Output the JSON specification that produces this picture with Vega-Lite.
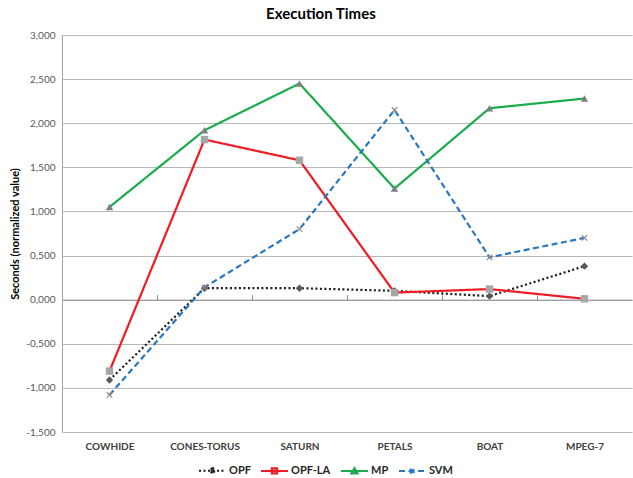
{
  "$schema": "https://vega.github.io/schema/vega-lite/v6.json",
  "width": 570,
  "height": 397,
  "autosize": {"type": "none"},
  "padding": {"left": 62, "top": 35, "right": 1, "bottom": 46},
  "background": "white",
  "config": {"font": "Lato", "view": {"stroke": null}},
  "title": {"text": "Execution Times", "font": "Lato", "fontSize": 15, "fontWeight": "bold", "color": "#000000", "anchor": "middle", "frame": "bounds", "offset": 8},
  "data": {"values": [
    {"cat": "COWHIDE", "series": "OPF", "v": -0.91},
    {"cat": "CONES-TORUS", "series": "OPF", "v": 0.13},
    {"cat": "SATURN", "series": "OPF", "v": 0.13},
    {"cat": "PETALS", "series": "OPF", "v": 0.10},
    {"cat": "BOAT", "series": "OPF", "v": 0.04},
    {"cat": "MPEG-7", "series": "OPF", "v": 0.38},
    {"cat": "COWHIDE", "series": "OPF-LA", "v": -0.81},
    {"cat": "CONES-TORUS", "series": "OPF-LA", "v": 1.815},
    {"cat": "SATURN", "series": "OPF-LA", "v": 1.58},
    {"cat": "PETALS", "series": "OPF-LA", "v": 0.08},
    {"cat": "BOAT", "series": "OPF-LA", "v": 0.12},
    {"cat": "MPEG-7", "series": "OPF-LA", "v": 0.01},
    {"cat": "COWHIDE", "series": "MP", "v": 1.05},
    {"cat": "CONES-TORUS", "series": "MP", "v": 1.92},
    {"cat": "SATURN", "series": "MP", "v": 2.45},
    {"cat": "PETALS", "series": "MP", "v": 1.26},
    {"cat": "BOAT", "series": "MP", "v": 2.17},
    {"cat": "MPEG-7", "series": "MP", "v": 2.28},
    {"cat": "COWHIDE", "series": "SVM", "v": -1.08},
    {"cat": "CONES-TORUS", "series": "SVM", "v": 0.14},
    {"cat": "SATURN", "series": "SVM", "v": 0.80},
    {"cat": "PETALS", "series": "SVM", "v": 2.15},
    {"cat": "BOAT", "series": "SVM", "v": 0.48},
    {"cat": "MPEG-7", "series": "SVM", "v": 0.70}
  ]},
  "encoding": {
    "y": {
      "field": "v", "type": "quantitative",
      "scale": {"domain": [-1.5, 3], "nice": false, "zero": false},
      "axis": {
        "title": "Seconds (normalized value)",
        "titleFont": "Lato", "titleFontSize": 11, "titleFontWeight": "bold", "titleColor": "#000000", "titlePadding": 5,
        "values": [-1.5, -1, -0.5, 0, 0.5, 1, 1.5, 2, 2.5, 3],
        "labelExpr": "replace(replace(format(datum.value, '.3f'), '.', ','), '\u2212', '-')",
        "labelFont": "Lato", "labelFontSize": 10, "labelColor": "#595959", "labelPadding": 7,
        "grid": true, "gridColor": "#b8b8b8", "gridWidth": 1,
        "domain": true, "domainColor": "#a6a6a6", "ticks": false
      }
    }
  },
  "resolve": {"axis": {"x": "independent"}},
  "layer": [
    {
      "mark": {"type": "point", "opacity": 0},
      "encoding": {
        "x": {
          "field": "cat", "type": "nominal",
          "sort": ["COWHIDE", "CONES-TORUS", "SATURN", "PETALS", "BOAT", "MPEG-7"],
          "scale": {"type": "point", "padding": 0.5},
          "axis": {"orient": "bottom", "offset": -132.33, "labels": false, "title": null, "grid": false,
                   "domain": true, "domainColor": "#8f8f8f", "domainWidth": 1,
                   "ticks": true, "tickColor": "#8f8f8f", "tickSize": -5, "tickOffset": -47.5}
        }
      }
    },
    {
      "mark": {"type": "line", "strokeWidth": 2.2},
      "encoding": {
        "x": {
          "field": "cat", "type": "nominal",
          "sort": ["COWHIDE", "CONES-TORUS", "SATURN", "PETALS", "BOAT", "MPEG-7"],
          "axis": {"orient": "bottom", "title": null, "labelAngle": 0, "labelFont": "Lato", "labelFontSize": 10, "labelFontWeight": "bold", "labelColor": "#404040", "labelPadding": 9, "ticks": false, "domain": false, "grid": false}
        },
        "color": {
          "field": "series", "type": "nominal",
          "scale": {"domain": ["OPF", "OPF-LA", "MP", "SVM"], "range": ["#1a1a1a", "#ee1c24", "#1aab4b", "#2878c0"]},
          "legend": {
            "title": null, "orient": "none", "direction": "horizontal", "legendX": 136, "legendY": 421,
            "padding": 0, "symbolSize": 729, "symbolStrokeWidth": 2, "labelOffset": 2, "columnPadding": 6,
            "labelFont": "Lato", "labelFontSize": 11, "labelFontWeight": "bold", "labelColor": "#262626",
            "encode": {
              "symbols": {
                "update": {
                  "shape": {"signal": "datum.value === 'OPF' ? 'M-1,0H1M0,-0.24L0.18,0L0,0.24L-0.18,0Z' : datum.value === 'OPF-LA' ? 'M-1,0H1M-0.2,-0.2H0.2V0.2H-0.2Z' : datum.value === 'MP' ? 'M-1,0H1M0,-0.22L0.24,0.2H-0.24Z' : 'M-1,0H1M-0.18,-0.18L0.18,0.18M-0.18,0.18L0.18,-0.18'"},
                  "fill": {"signal": "datum.value === 'OPF' ? '#595959' : datum.value === 'OPF-LA' ? '#a6a6a6' : datum.value === 'MP' ? '#7f7f7f' : 'transparent'"},
                  "strokeDash": {"signal": "datum.value === 'OPF' ? [1.5, 2] : datum.value === 'SVM' ? [4, 3] : [1, 0]"}
                }
              }
            }
          }
        },
        "strokeDash": {
          "field": "series", "type": "nominal",
          "scale": {"domain": ["OPF", "OPF-LA", "MP", "SVM"], "range": [[2, 2.5], [1, 0], [1, 0], [6, 3.5]]},
          "legend": null
        }
      }
    },
    {
      "transform": [{"filter": "datum.series !== 'SVM'"}],
      "mark": {"type": "point", "filled": true, "opacity": 1, "size": 55},
      "encoding": {
        "x": {"field": "cat", "type": "nominal", "sort": ["COWHIDE", "CONES-TORUS", "SATURN", "PETALS", "BOAT", "MPEG-7"], "axis": null},
        "shape": {"field": "series", "type": "nominal", "scale": {"domain": ["OPF", "OPF-LA", "MP"], "range": ["diamond", "square", "triangle-up"]}, "legend": null},
        "fill": {"field": "series", "type": "nominal", "scale": {"domain": ["OPF", "OPF-LA", "MP"], "range": ["#595959", "#a6a6a6", "#7f7f7f"]}, "legend": null}
      }
    },
    {
      "transform": [{"filter": "datum.series === 'SVM'"}],
      "mark": {"type": "point", "filled": false, "shape": "M-1,-1L1,1M-1,1L1,-1", "stroke": "#8c8c8c", "strokeWidth": 1.2, "size": 30, "opacity": 1},
      "encoding": {
        "x": {"field": "cat", "type": "nominal", "sort": ["COWHIDE", "CONES-TORUS", "SATURN", "PETALS", "BOAT", "MPEG-7"], "axis": null}
      }
    }
  ]
}
